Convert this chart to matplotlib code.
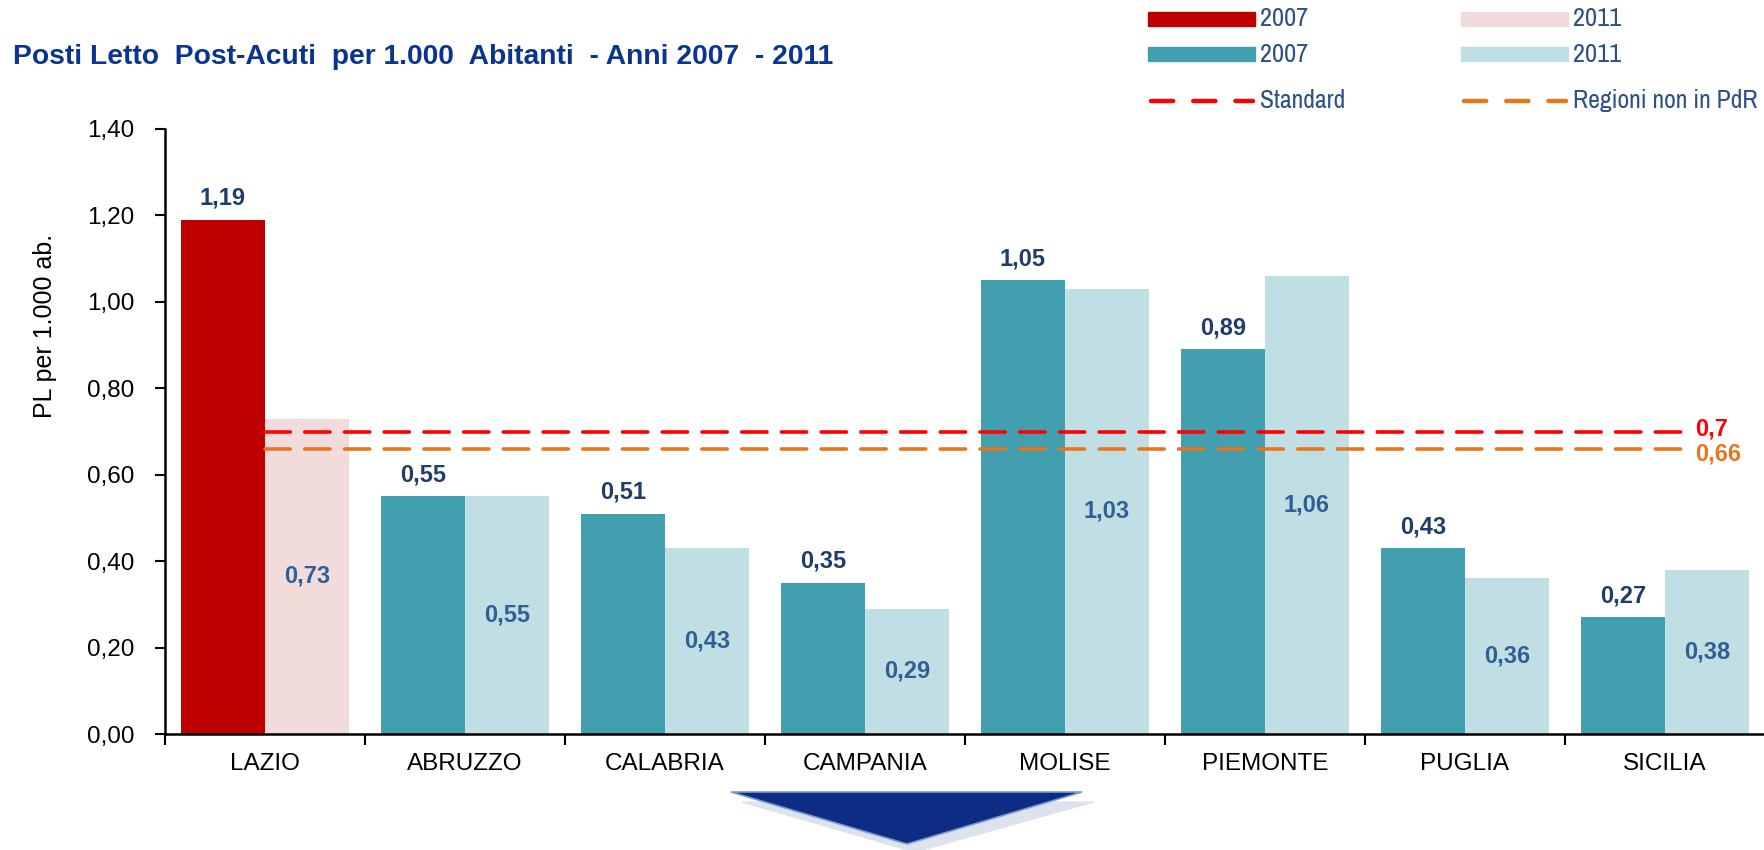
import numpy as np
import matplotlib
matplotlib.use("Agg")
import matplotlib.pyplot as plt
from matplotlib.patches import Polygon, Rectangle
from matplotlib.lines import Line2D

# Data
regions = ["LAZIO", "ABRUZZO", "CALABRIA", "CAMPANIA", "MOLISE", "PIEMONTE", "PUGLIA", "SICILIA"]
pl_2007 = [1.19, 0.55, 0.51, 0.35, 1.05, 0.89, 0.43, 0.27]
pl_2011 = [0.73, 0.55, 0.43, 0.29, 1.03, 1.06, 0.36, 0.38]
standard = 0.7
non_pdr = 0.66
yticks = [0.0, 0.2, 0.4, 0.6, 0.8, 1.0, 1.2, 1.4]

RED_07 = "#C00000"
RED_11 = "#F2DCDB"
TEAL_07 = "#419FAF"
TEAL_11 = "#C0DFE4"
STD_COL = "#FF0000"
PDR_COL = "#E8761C"
NAVY = "#1F3D6B"
LBLUE = "#2F5F96"
LEG_TXT = "#2B4F86"

plt.rcParams["font.family"] = ["Liberation Sans", "DejaVu Sans"]
# narrow family for the legend, first one found is used
NARROW = ["Liberation Sans Narrow", "Archivo Narrow", "Roboto Condensed",
          "Sofia Sans Condensed", "Liberation Sans"]

def fmt(v, nd=2):
    return f"{v:.{nd}f}".replace(".", ",")

W, H = 1765, 850
fig = plt.figure(figsize=(W / 100, H / 100), dpi=100)
ax = fig.add_axes([165 / W, 1 - 734 / H, 1 - 165 / W, (734 - 129) / H])

x = np.arange(len(regions))
bw = 0.42
c07 = [RED_07] + [TEAL_07] * (len(regions) - 1)
c11 = [RED_11] + [TEAL_11] * (len(regions) - 1)
ax.bar(x - bw / 2, pl_2007, bw, color=c07, zorder=2)
ax.bar(x + bw / 2, pl_2011, bw, color=c11, zorder=2)

for xi, v in zip(x, pl_2007):
    ax.text(xi - bw / 2, v + 0.05, fmt(v), ha="center", va="center",
            fontsize=17, fontweight="bold", color=NAVY, zorder=4)
for xi, v in zip(x, pl_2011):
    ax.text(xi + bw / 2, v / 2, fmt(v), ha="center", va="center",
            fontsize=17, fontweight="bold", color=LBLUE, zorder=4)

# reference lines
ax.plot([0, 7.1], [standard, standard], color=STD_COL, lw=2.6,
        dashes=(7, 4), dash_capstyle="round", zorder=3)
ax.plot([0, 7.1], [non_pdr, non_pdr], color=PDR_COL, lw=2.6,
        dashes=(7, 4), dash_capstyle="round", zorder=3)
ax.text(7.15, standard + 0.005, fmt(standard, 1), color=STD_COL, fontsize=17,
        fontweight="bold", va="center", ha="left")
ax.text(7.15, non_pdr - 0.012, fmt(non_pdr), color=PDR_COL, fontsize=17,
        fontweight="bold", va="center", ha="left")

ax.set_xlim(-0.5, 7.5)
ax.set_ylim(0, 1.4)
ax.set_yticks(yticks)
ax.set_yticklabels([fmt(t) for t in yticks], fontsize=17.5)
ax.set_xticks(x)
ax.set_xticklabels(regions, fontsize=17.5)
ax.tick_params(axis="x", length=0, pad=14)
ax.set_xticks(np.arange(-0.5, 7.5, 1.0), minor=True)
ax.tick_params(axis="x", which="minor", length=8, width=1.5, direction="out")
ax.tick_params(axis="y", length=7, width=1.5, pad=15)
for s in ["top", "right"]:
    ax.spines[s].set_visible(False)
for s in ["left", "bottom"]:
    ax.spines[s].set_linewidth(1.8)
ax.spines["bottom"].set_zorder(5)

fig.text(45 / W, 1 - 326 / H, "PL per 1.000 ab.", rotation=90, ha="center",
         va="center", fontsize=18)

fig.text(13 / W, 1 - 57 / H, "Posti Letto  Post-Acuti  per 1.000  Abitanti  - Anni 2007  - 2011",
         fontsize=20.3, fontweight="bold", color="#0A3491", ha="left", va="center")

# legend drawn by hand in figure pixels
def fx(px):
    return px / W

def fy(py):
    return 1 - py / H

bar_items = [
    (1148, 19, RED_07, "2007"), (1461, 19, RED_11, "2011"),
    (1148, 54, TEAL_07, "2007"), (1461, 54, TEAL_11, "2011"),
]
for px, py, col, lab in bar_items:
    fig.add_artist(Rectangle((fx(px), fy(py + 7)), 107 / W, 14 / H,
                             transform=fig.transFigure, color=col))
    fig.text(fx(px + 112), fy(py), lab, fontsize=19, color=LEG_TXT, va="center",
             family=NARROW)

line_items = [(1148, 101, STD_COL, "Standard"), (1461, 101, PDR_COL, "Regioni non in PdR")]
for px, py, col, lab in line_items:
    fig.add_artist(Line2D([fx(px + 3), fx(px + 105)], [fy(py), fy(py)], transform=fig.transFigure,
                          color=col, lw=3.2, dashes=(5, 4.5), dash_capstyle="round"))
    fig.text(fx(px + 112), fy(py), lab, fontsize=18.5, color=LEG_TXT, va="center",
             family=NARROW)

# arrow at the bottom
shadow = Polygon([(fx(742), fy(802)), (fx(1094), fy(802)), (fx(915), fy(852))],
                 closed=True, transform=fig.transFigure, color="#DDE3ED", zorder=1)
arrow = Polygon([(fx(731), fy(792)), (fx(1082), fy(792)), (fx(907), fy(844))],
                closed=True, transform=fig.transFigure, facecolor="#0F2C84",
                edgecolor="#7D9BCB", lw=1.2, zorder=2)
fig.add_artist(shadow)
fig.add_artist(arrow)

fig.savefig("out.png", dpi=100)
